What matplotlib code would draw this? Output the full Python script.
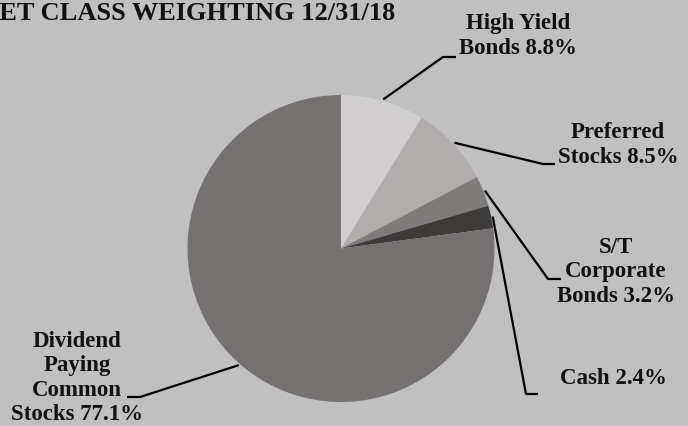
import numpy as np
import matplotlib.pyplot as plt

# data
labels = ['High Yield\nBonds 8.8%', 'Preferred\nStocks 8.5%', 'S/T\nCorporate\nBonds 3.2%',
          'Cash 2.4%', 'Dividend\nPaying\nCommon\nStocks 77.1%']
weights = [8.8, 8.5, 3.2, 2.4, 77.1]
colors = ['#D0CECE', '#B1ADAC', '#7F7B7A', '#3D3B3A', '#767171']

# layout (pixel coords, y up) for the label text and the elbow of each leader
text_xy = [(518, 390), (618, 281), (616, 154), (613, 47), (77, 48)]
elbow_xy = [(443, 369), (543, 262), (548, 147), (526, 32), (140, 29)]
end_xy = [(456, 369), (555, 262), (561, 147), (538, 32), (127, 29)]

W, H = 688, 426
bg = '#C0C0C0'
font = ['Liberation Serif', 'DejaVu Serif']

fig = plt.figure(figsize=(W / 100, H / 100), dpi=100, facecolor=bg)
ax = fig.add_axes([0, 0, 1, 1])
ax.set_facecolor(bg)

cx, cy, r = 341, 177.5, 153.5
wedges, _ = ax.pie(weights, colors=colors, startangle=90, counterclock=False,
                   center=(cx, cy), radius=r, frame=True,
                   wedgeprops=dict(linewidth=0))
ax.set_xlim(0, W)
ax.set_ylim(0, H)
ax.set_aspect('equal')
ax.axis('off')

for w, lab, txy, exy, nxy in zip(wedges, labels, text_xy, elbow_xy, end_xy):
    ang = np.deg2rad((w.theta1 + w.theta2) / 2)
    tip = (cx + r * 1.01 * np.cos(ang), cy + r * 1.01 * np.sin(ang))
    ax.plot([tip[0], exy[0], nxy[0]], [tip[1], exy[1], nxy[1]],
            color='black', lw=1.6, solid_capstyle='butt')
    ax.text(txy[0], txy[1], lab, ha='center', va='center', fontsize=16.5,
            fontweight='bold', family=font, color='#111111', linespacing=1.2)

# the title runs off the left edge in the original too
ax.text(395, H - 14, 'ASSET CLASS WEIGHTING 12/31/18', ha='right', va='center',
        fontsize=19, fontweight='bold', family=font, color='#111111')

fig.savefig('out.png', dpi=100, facecolor=bg)
